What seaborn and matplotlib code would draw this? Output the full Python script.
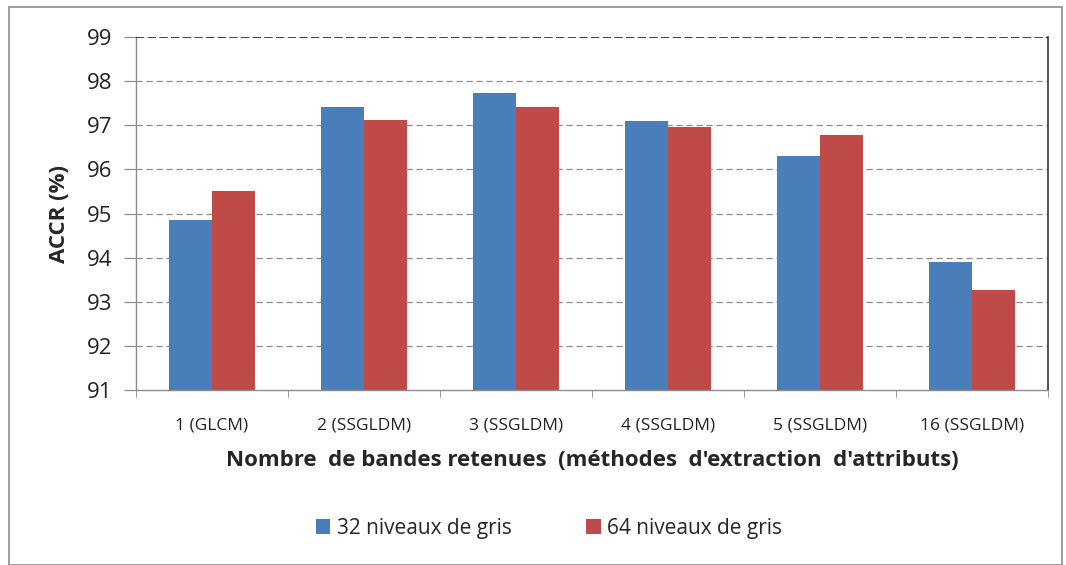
import pandas as pd
import matplotlib.pyplot as plt
import seaborn as sns
from matplotlib.patches import Rectangle
from matplotlib.ticker import FixedLocator

# Données
categories = ['1 (GLCM)', '2 (SSGLDM)', '3 (SSGLDM)', '4 (SSGLDM)', '5 (SSGLDM)', '16 (SSGLDM)']
accr_32 = [94.85, 97.42, 97.74, 97.09, 96.31, 93.90]
accr_64 = [95.50, 97.13, 97.42, 96.96, 96.77, 93.27]
series = ['32 niveaux de gris', '64 niveaux de gris']
colors = ['#4a7ebb', '#be4b48']

df = pd.DataFrame({
    'cat': categories * 2,
    'accr': accr_32 + accr_64,
    'serie': [series[0]] * len(categories) + [series[1]] * len(categories),
})

sns.set_style('white')
plt.rcParams['font.family'] = ['Open Sans', 'DejaVu Sans']

fig = plt.figure(figsize=(10.66, 5.65), dpi=100)
ax = fig.add_axes([0.1276, 0.3097, 0.8554, 0.6248])

sns.barplot(data=df, x='cat', y='accr', hue='serie', palette=colors,
            width=0.57, saturation=1, linewidth=0, ax=ax, legend=True)

ax.set_ylim(91, 99)
ax.set_yticks(range(91, 100))
ax.tick_params(axis='y', labelsize=16, length=9, width=0.9, pad=8,
               direction='out', left=True, colors='#8c8c8c', labelcolor='#222222')
ax.tick_params(axis='x', labelsize=12.5, colors='#222222', length=0, pad=20)
ax.xaxis.set_minor_locator(FixedLocator([i + 0.5 for i in range(-1, 6)]))
ax.tick_params(axis='x', which='minor', length=5, color='#888888', bottom=True)

# grille en tirets
for v in range(92, 99):
    ax.axhline(v, color='#8c8c8c', lw=0.9, ls=(0, (5, 3)), zorder=0)
ax.axhline(99, color='#222222', lw=1.2, ls=(0, (5, 2)), zorder=3)

for s in ['left', 'bottom']:
    ax.spines[s].set_color('#8c8c8c')
    ax.spines[s].set_linewidth(1)
ax.spines['top'].set_visible(False)
ax.spines['right'].set_color('#333333')
ax.spines['right'].set_linewidth(1.2)

ax.set_ylabel('ACCR (%)', fontsize=16, fontweight='bold', labelpad=12)
ax.set_xlabel("Nombre  de bandes retenues  (méthodes  d'extraction  d'attributs)",
              fontsize=16, fontweight='bold', labelpad=12)

handles, labels = ax.get_legend_handles_labels()
ax.legend_.remove()
fig.legend(handles, labels, loc='center', bbox_to_anchor=(0.515, 0.065), ncol=2,
           frameon=False, fontsize=15, handlelength=0.7, handleheight=0.7,
           handletextpad=0.3, columnspacing=3.6)

# cadre extérieur
fig.patches.append(Rectangle((0.008, 0.0), 0.988, 0.987, transform=fig.transFigure,
                             fill=False, edgecolor='#8c8c8c', lw=1.2))

plt.savefig('out.png', dpi=100)
plt.close()
